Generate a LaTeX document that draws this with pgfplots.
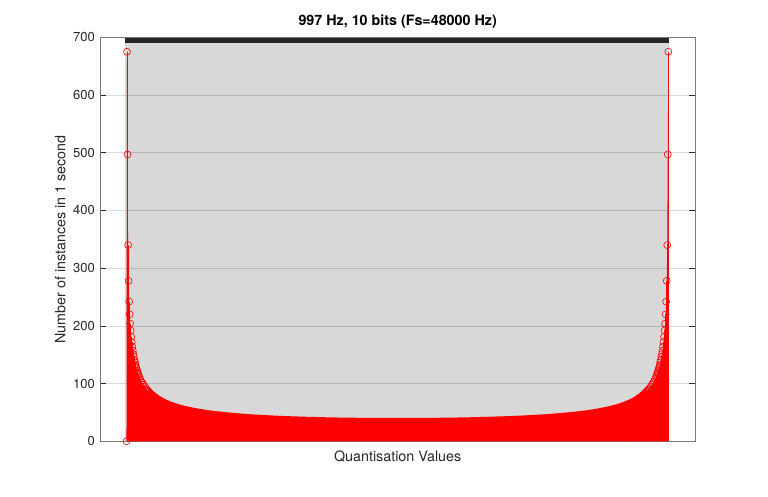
\documentclass[border=0pt]{standalone}
\usepackage{fontspec}
\setmainfont{TeX Gyre Heros}
\usepackage{pgfplots}
\usepackage{pgfplotstable}
\pgfplotsset{compat=1.18}
\definecolor{gridgray}{RGB}{216,216,216}
\definecolor{txt}{RGB}{38,38,38}
\definecolor{axgray}{RGB}{120,120,120}
\pgfplotstableread{
x y
-512 0
-511 675
-510 497
-509 340
-508 278
-507 242
-506 220
-505 204
-504 192
-503 181
-502 172
-501 164
-500 157
-499 151
-498 146
-497 141
-496 137
-495 133
-494 129
-493 126
-492 123
-491 120
-490 117
-489 115
-488 112
-486 108
-484 104
-482 101
-480 98
-478 95
-476 92
-474 90
-472 88
-470 86
-468 84
-466 82
-464 80
-462 79
-460 77
-458 76
-456 75
-454 73.5
-452 72.4
-448 70.2
-444 68.3
-440 66.5
-436 64.9
-432 63.3
-428 62.0
-424 60.7
-420 59.5
-416 58.3
-412 57.3
-408 56.3
-404 55.3
-400 54.5
-396 53.6
-392 52.9
-388 52.1
-384 51.4
-380 50.7
-376 50.1
-372 49.5
-368 48.9
-364 48.3
-360 47.8
-356 47.3
-352 46.8
-348 46.3
-344 45.9
-340 45.5
-336 45.1
-332 44.7
-328 44.3
-324 43.9
-320 43.6
-316 43.2
-312 42.9
-304 42.3
-296 41.7
-288 41.1
-280 40.6
-272 40.1
-264 39.7
-256 39.3
-248 38.9
-240 38.5
-232 38.1
-224 37.8
-216 37.5
-208 37.2
-200 36.9
-192 36.7
-176 36.2
-160 35.8
-144 35.4
-128 35.1
-112 34.8
-96 34.6
-80 34.4
-64 34.3
-48 34.2
-32 34.1
-16 34.0
0 34.0
16 34.0
32 34.1
48 34.2
64 34.3
80 34.4
96 34.6
112 34.8
128 35.1
144 35.4
160 35.8
176 36.2
192 36.7
200 36.9
208 37.2
216 37.5
224 37.8
232 38.1
240 38.5
248 38.9
256 39.3
264 39.7
272 40.1
280 40.6
288 41.1
296 41.7
304 42.3
312 42.9
316 43.2
320 43.6
324 43.9
328 44.3
332 44.7
336 45.1
340 45.5
344 45.9
348 46.3
352 46.8
356 47.3
360 47.8
364 48.3
368 48.9
372 49.5
376 50.1
380 50.7
384 51.4
388 52.1
392 52.9
396 53.6
400 54.5
404 55.3
408 56.3
412 57.3
416 58.3
420 59.5
424 60.7
428 62.0
432 63.3
436 64.9
440 66.5
444 68.3
448 70.2
452 72.4
454 73.5
456 75
458 76
460 77
462 79
464 80
466 82
468 84
470 86
472 88
474 90
476 92
478 95
480 98
482 101
484 104
486 108
488 112
489 115
490 117
491 120
492 123
493 126
494 129
495 133
496 137
497 141
498 146
499 151
500 157
501 164
502 172
503 181
504 192
505 204
506 220
507 242
508 278
509 340
510 497
511 675
}\hist
\begin{document}
\begin{tikzpicture}
\useasboundingbox (0,0) rectangle (768pt,496pt);
\begin{axis}[
  at={(100pt,54.7pt)}, anchor=south west,
  scale only axis, width=595.3pt, height=404pt,
  xmin=-562, xmax=562, ymin=0, ymax=700,
  xtick={-512,-508,...,508,511},
  xticklabels={},
  xtick pos=right,
  ytick={0,100,...,700},
  xmajorgrids, ymajorgrids,
  x grid style={gridgray, line width=2.2pt},
  y grid style={black, opacity=0.15, line width=0.5pt},
  major tick length=6pt,
  tick align=inside,
  x tick style={line width=2.2pt, color=txt},
  y tick style={line width=0.6pt, color=txt},
  axis line style={axgray, line width=0.6pt},
  /pgf/number format/assume math mode=true,
  yticklabel style={font=\fontsize{13}{15}\selectfont, color=txt, xshift=-1.7pt},
  title={997 Hz, 10 bits (Fs=48000 Hz)},
  title style={font=\fontsize{14.3}{16}\selectfont\bfseries, color=black, at={(axis description cs:0.5,1.0139)}, anchor=base},
  xlabel={Quantisation Values},
  xlabel style={font=\fontsize{14.3}{16}\selectfont, color=txt, at={(axis description cs:0.5,-0.0505)}, anchor=base},
  ylabel={Number of instances in 1 second},
  ylabel style={font=\fontsize{14.3}{16}\selectfont, color=txt, at={(axis description cs:-0.058,0.5)}, anchor=base},
]
\addplot[draw=none, fill=red] table[x=x,y=y]{\hist} \closedcycle;
\addplot[red, line width=7.4pt, restrict x to domain=-472:472] table[x=x,y=y]{\hist};
\addplot[ycomb, red, line width=0.5pt, mark=o, mark size=3.5pt, mark options={line width=0.6pt, fill=none, solid}, restrict x to domain=-512:-452] table[x=x,y=y]{\hist};
\addplot[ycomb, red, line width=0.5pt, mark=o, mark size=3.5pt, mark options={line width=0.6pt, fill=none, solid}, restrict x to domain=452:511] table[x=x,y=y]{\hist};
\end{axis}
\end{tikzpicture}
\end{document}
